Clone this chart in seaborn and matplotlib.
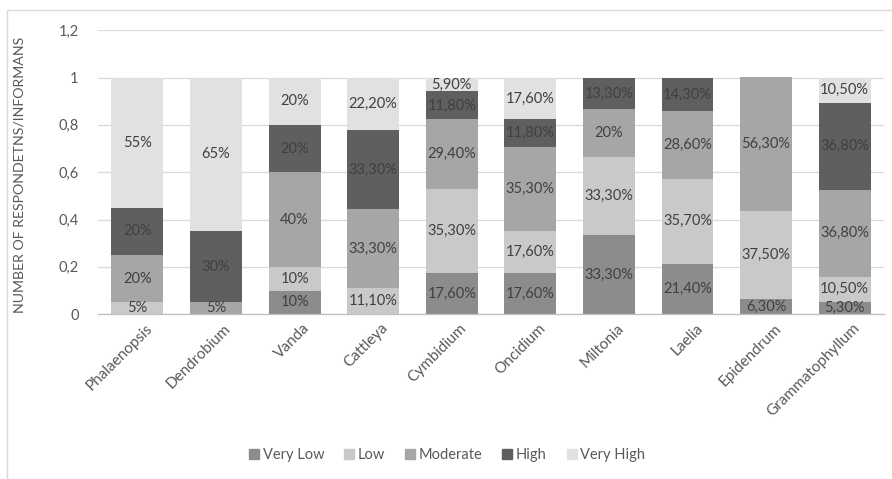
import matplotlib
matplotlib.use("Agg")
import matplotlib.pyplot as plt
import matplotlib.transforms as mtransforms
import seaborn as sns
import numpy as np
import pandas as pd
from matplotlib.patches import Rectangle
from matplotlib.lines import Line2D

# Orchid genera and the share of respondents per rating level (in %)
genera = ["Phalaenopsis", "Dendrobium", "Vanda", "Cattleya", "Cymbidium",
          "Oncidium", "Miltonia", "Laelia", "Epidendrum", "Grammatophyllum"]
levels = ["Very Low", "Low", "Moderate", "High", "Very High"]

very_low = [0, 0, 10, 0, 17.6, 17.6, 33.3, 21.4, 6.3, 5.3]
low = [5, 0, 10, 11.1, 35.3, 17.6, 33.3, 35.7, 37.5, 10.5]
moderate = [20, 5, 40, 33.3, 29.4, 35.3, 20, 28.6, 56.3, 36.8]
high = [20, 30, 20, 33.3, 11.8, 11.8, 13.3, 14.3, 0, 36.8]
very_high = [55, 65, 20, 22.2, 5.9, 17.6, 0, 0, 0, 10.5]

y_ticks = [0, 0.2, 0.4, 0.6, 0.8, 1.0, 1.2]
y_tick_labels = ["0", "0,2", "0,4", "0,6", "0,8", "1", "1,2"]

colors = ["#8c8c8c", "#c9c9c9", "#a6a6a6", "#5f5f5f", "#e1e1e1"]

series = [very_low, low, moderate, high, very_high]
frac = np.array(series) / 100.0
cum = np.cumsum(frac, axis=0)

sns.set_style("white")
plt.rcParams["font.family"] = ["Lato", "DejaVu Sans"]

fig = plt.figure(figsize=(8.92, 4.79), dpi=100)
ax = fig.add_axes([0.110, 0.344, 0.881, 0.593])

# Chart-area outline
fig.patches.append(Rectangle((7 / 892, -0.1), 1.2, 1 - 10 / 479 + 0.1,
                             transform=fig.transFigure, fill=False,
                             edgecolor="#d9d9d9", linewidth=1.0, zorder=0))

# Stacked bars: draw cumulative totals from the top level down
for i in range(len(levels) - 1, -1, -1):
    df = pd.DataFrame({"genus": genera, "value": cum[i]})
    sns.barplot(data=df, x="genus", y="value", order=genera, color=colors[i],
                width=0.66, saturation=1, ax=ax, errorbar=None, zorder=2,
                linewidth=0)


def fmt(v):
    if abs(v - round(v)) < 1e-9:
        return f"{int(round(v))}%"
    return f"{v:.2f}%".replace(".", ",")


# Segment value labels
for i in range(len(levels)):
    for j in range(len(genera)):
        v = series[i][j]
        if v <= 0:
            continue
        center = cum[i][j] - frac[i][j] / 2
        ax.text(j, center, fmt(v), ha="center", va="center", fontsize=10.5,
                color="#404040", zorder=5)

ax.set_ylim(0, 1.2)
ax.set_xlim(-0.5, len(genera) - 0.5)
ax.set_yticks(y_ticks)
ax.set_yticklabels(y_tick_labels, fontsize=10.5, color="#595959")
ax.yaxis.grid(True, color="#d9d9d9", linewidth=0.9, zorder=0)
ax.set_axisbelow(True)
for s in ["top", "right", "left"]:
    ax.spines[s].set_visible(False)
ax.spines["bottom"].set_color("#bfbfbf")
ax.spines["bottom"].set_linewidth(0.9)
ax.tick_params(axis="both", length=0)
ax.tick_params(axis="y", pad=14)
ax.set_xlabel("")
ax.set_ylabel("NUMBER OF RESPONDETNS/INFORMANS", fontsize=10.2, color="#595959")
ax.yaxis.set_label_coords(-0.093, 0.49)

ax.set_xticks(range(len(genera)))
ax.set_xticklabels(genera, rotation=45, ha="right", rotation_mode="anchor",
                   fontsize=11, color="#595959")
ax.tick_params(axis="x", pad=5)
shift = mtransforms.ScaledTranslation(8 / 100, 0, fig.dpi_scale_trans)
for lbl in ax.get_xticklabels():
    lbl.set_transform(lbl.get_transform() + shift)

handles = [Line2D([0], [0], marker="s", linestyle="", markersize=7,
                  markerfacecolor=c, markeredgecolor=c) for c in colors]
fig.legend(handles, levels, loc="center", bbox_to_anchor=(0.5, 0.05), ncol=5,
           frameon=False, fontsize=10.5, labelcolor="#595959",
           handletextpad=0.1, columnspacing=1.2, handlelength=1.0)

fig.savefig("out.png", dpi=100, facecolor="white")
